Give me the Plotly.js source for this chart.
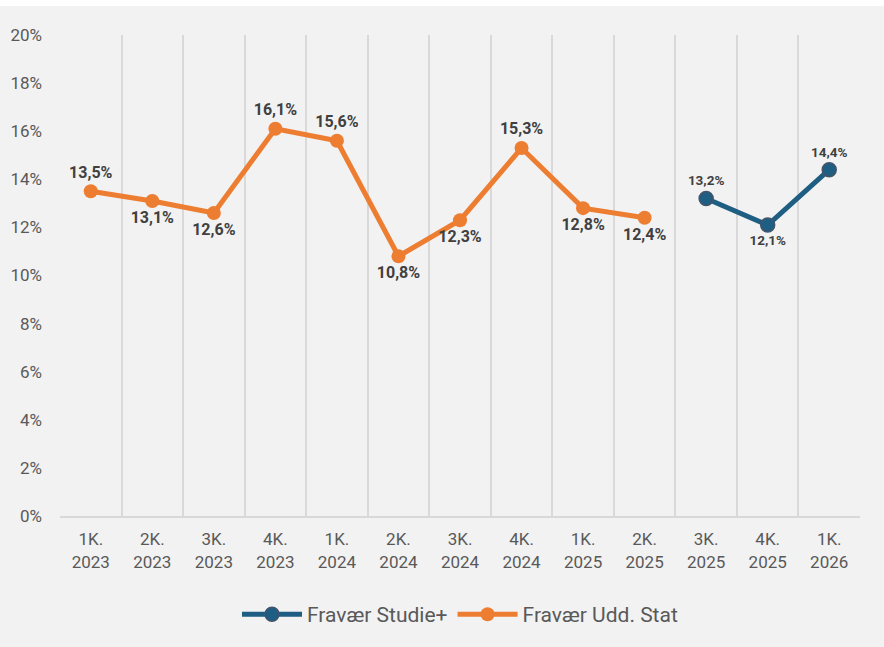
<!DOCTYPE html>
<html><head><meta charset="utf-8">
<script src="https://cdn.plot.ly/plotly-3.0.1.min.js"></script>
<style>html,body{margin:0;padding:0;background:#ffffff;}#chart{position:absolute;left:0;top:6px;width:884px;height:641px;}</style>
</head><body><div id="chart"></div>
<script>
const categories = ["1K.<br>2023","2K.<br>2023","3K.<br>2023","4K.<br>2023","1K.<br>2024","2K.<br>2024","3K.<br>2024","4K.<br>2024","1K.<br>2025","2K.<br>2025","3K.<br>2025","4K.<br>2025","1K.<br>2026"];
const uddStat = [0.135,0.131,0.126,0.161,0.156,0.108,0.123,0.153,0.128,0.124,null,null,null];
const studiePlus = [null,null,null,null,null,null,null,null,null,null,0.132,0.121,0.144];
const uddStatPos = ["top center","bottom center","bottom center","top center","top center","bottom center","bottom center","top center","bottom center","bottom center","top center","top center","top center"];
const studiePos = ["top center","top center","top center","top center","top center","top center","top center","top center","top center","top center","top center","bottom center","top center"];
const yTicks = [0,0.02,0.04,0.06,0.08,0.10,0.12,0.14,0.16,0.18,0.20];

function fmt(v){ return v==null? "" : (v*100).toFixed(1).replace(".",",")+"%"; }

const font = "Roboto, 'Liberation Sans', sans-serif";
const traces = [
  {
    name: "Fravær Studie+", x: categories, y: studiePlus, type: "scatter", mode: "lines+markers+text",
    line: {color: "#1d5e82", width: 5},
    marker: {color: "#1d5e82", size: 14, line: {color: "#44546a", width: 1.5}},
    text: studiePlus.map(fmt), textposition: studiePos,
    textfont: {family: font, size: 13.5, color: "#404040", weight: "bold"},
    cliponaxis: false, connectgaps: false, hoverinfo: "skip"
  },
  {
    name: "Fravær Udd. Stat", x: categories, y: uddStat, type: "scatter", mode: "lines+markers+text",
    line: {color: "#ed7d31", width: 5},
    marker: {color: "#ed7d31", size: 14},
    text: uddStat.map(fmt), textposition: uddStatPos,
    textfont: {family: font, size: 16, color: "#404040", weight: "bold"},
    cliponaxis: false, connectgaps: false, hoverinfo: "skip"
  }
];

const layout = {
  width: 884, height: 641,
  paper_bgcolor: "#f2f2f2", plot_bgcolor: "#f2f2f2",
  margin: {l: 60, r: 24, t: 29, b: 131},
  font: {family: font, color: "#595959", size: 16},
  showlegend: true,
  legend: {orientation: "h", x: 0.5, xanchor: "center", y: -0.205, yanchor: "middle",
           font: {size: 21, color: "#595959"}, itemwidth: 60, traceorder: "normal", bgcolor: "rgba(0,0,0,0)"},
  xaxis: {
    type: "category", range: [-0.5, 12.5], tickson: "boundaries",
    showgrid: true, gridcolor: "#d9d9d9", gridwidth: 2,
    showline: true, linecolor: "#d9d9d9", linewidth: 2,
    ticks: "", tickfont: {size: 17, color: "#595959"}, ticklabelstandoff: 7, fixedrange: true, zeroline: false
  },
  yaxis: {
    range: [0, 0.20], tickvals: yTicks, ticktext: yTicks.map(v => Math.round(v*100)+"%"),
    showgrid: false, zeroline: false, showline: false, ticks: "",
    tickfont: {size: 17, color: "#595959"}, ticklabelstandoff: 17, fixedrange: true
  }
};
Plotly.newPlot("chart", traces, layout, {displayModeBar: false, staticPlot: true});
</script></body></html>
